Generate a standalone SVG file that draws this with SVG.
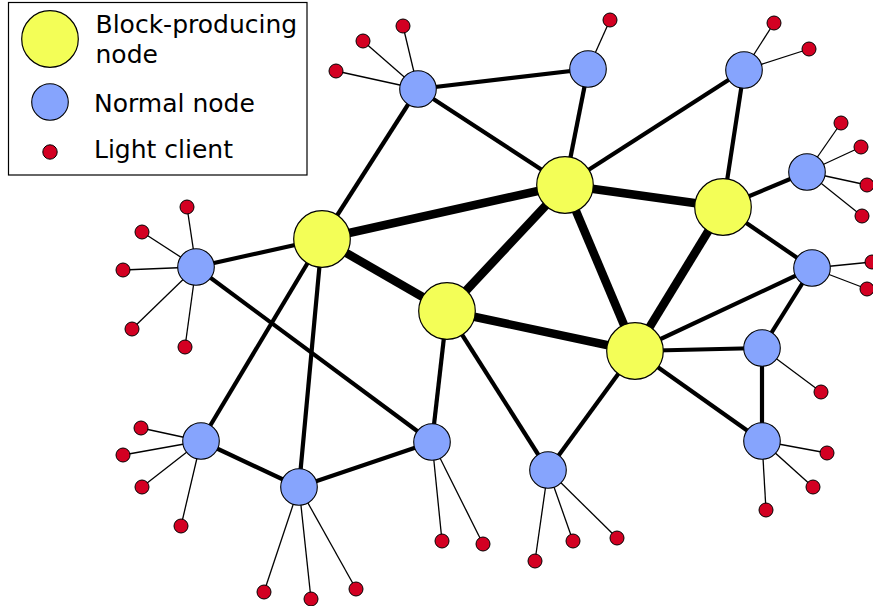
<svg xmlns="http://www.w3.org/2000/svg" width="873" height="606" viewBox="0 0 873 606">
<style>
.bg{fill:#ffffff}
.legend{fill:#ffffff;stroke:#000;stroke-width:1.2}
.lbl{font-family:"DejaVu Sans",sans-serif;font-size:25px;fill:#000}
.bp{fill:#f3fe57;stroke:#000;stroke-width:1.2}
.nn{fill:#86a4fd;stroke:#000;stroke-width:1.1}
.lc{fill:#d30022;stroke:#000;stroke-width:1}
.e{stroke:#000;stroke-width:4.2;stroke-linecap:butt}
.h{stroke:#000;stroke-width:8.5;stroke-linecap:butt}
.t{stroke:#000;stroke-width:1.3}
</style>
<rect class="bg" x="0" y="0" width="873" height="606"/>
<g id="connectors">
  <!-- light client links -->
  <line class="t" x1="418" y1="89" x2="403" y2="26"/>
  <line class="t" x1="418" y1="89" x2="363" y2="41"/>
  <line class="t" x1="418" y1="89" x2="336" y2="71"/>
  <line class="t" x1="588" y1="69" x2="610" y2="20"/>
  <line class="t" x1="744" y1="70" x2="774" y2="23"/>
  <line class="t" x1="744" y1="70" x2="809" y2="49"/>
  <line class="t" x1="807" y1="172" x2="841" y2="123"/>
  <line class="t" x1="807" y1="172" x2="861" y2="147"/>
  <line class="t" x1="807" y1="172" x2="867" y2="185"/>
  <line class="t" x1="807" y1="172" x2="862" y2="216"/>
  <line class="t" x1="196" y1="267" x2="187" y2="207"/>
  <line class="t" x1="196" y1="267" x2="142" y2="232"/>
  <line class="t" x1="196" y1="267" x2="123" y2="270"/>
  <line class="t" x1="196" y1="267" x2="132" y2="329"/>
  <line class="t" x1="196" y1="267" x2="185" y2="347"/>
  <line class="t" x1="812" y1="268" x2="872" y2="262"/>
  <line class="t" x1="812" y1="268" x2="867" y2="289"/>
  <line class="t" x1="762" y1="348" x2="821" y2="392"/>
  <line class="t" x1="762" y1="441" x2="827" y2="453"/>
  <line class="t" x1="762" y1="441" x2="813" y2="487"/>
  <line class="t" x1="762" y1="441" x2="766" y2="510"/>
  <line class="t" x1="548" y1="470" x2="535" y2="561"/>
  <line class="t" x1="548" y1="470" x2="573" y2="541"/>
  <line class="t" x1="548" y1="470" x2="617" y2="538"/>
  <line class="t" x1="432" y1="442" x2="442" y2="541"/>
  <line class="t" x1="432" y1="442" x2="483" y2="544"/>
  <line class="t" x1="299" y1="487" x2="264" y2="592"/>
  <line class="t" x1="299" y1="487" x2="311" y2="599"/>
  <line class="t" x1="299" y1="487" x2="356" y2="589"/>
  <line class="t" x1="201" y1="441" x2="141" y2="428"/>
  <line class="t" x1="201" y1="441" x2="123" y2="455"/>
  <line class="t" x1="201" y1="441" x2="142" y2="487"/>
  <line class="t" x1="201" y1="441" x2="181" y2="526"/>
  <!-- node links -->
  <line class="e" x1="418" y1="89" x2="588" y2="69"/>
  <line class="e" x1="418" y1="89" x2="565" y2="185"/>
  <line class="e" x1="418" y1="89" x2="322" y2="239"/>
  <line class="e" x1="588" y1="69" x2="565" y2="185"/>
  <line class="e" x1="744" y1="70" x2="565" y2="185"/>
  <line class="e" x1="744" y1="70" x2="723" y2="207"/>
  <line class="e" x1="723" y1="207" x2="807" y2="172"/>
  <line class="e" x1="723" y1="207" x2="812" y2="268"/>
  <line class="e" x1="635" y1="351" x2="812" y2="268"/>
  <line class="e" x1="635" y1="351" x2="762" y2="348"/>
  <line class="e" x1="635" y1="351" x2="762" y2="441"/>
  <line class="e" x1="635" y1="351" x2="548" y2="470"/>
  <line class="e" x1="812" y1="268" x2="762" y2="348"/>
  <line class="e" x1="762" y1="348" x2="762" y2="441"/>
  <line class="e" x1="447" y1="311" x2="548" y2="470"/>
  <line class="e" x1="447" y1="311" x2="432" y2="442"/>
  <line class="e" x1="322" y1="239" x2="196" y2="267"/>
  <line class="e" x1="196" y1="267" x2="432" y2="442"/>
  <line class="e" x1="322" y1="239" x2="201" y2="441"/>
  <line class="e" x1="322" y1="239" x2="299" y2="487"/>
  <line class="e" x1="201" y1="441" x2="299" y2="487"/>
  <line class="e" x1="299" y1="487" x2="432" y2="442"/>
  <!-- heavy links between block producers -->
  <line class="h" x1="565" y1="185" x2="322" y2="239"/>
  <line class="h" x1="565" y1="185" x2="723" y2="207"/>
  <line class="h" x1="565" y1="185" x2="447" y2="311"/>
  <line class="h" x1="565" y1="185" x2="635" y2="351"/>
  <line class="h" x1="723" y1="207" x2="635" y2="351"/>
  <line class="h" x1="322" y1="239" x2="447" y2="311"/>
  <line class="h" x1="447" y1="311" x2="635" y2="351"/>
</g>
<g id="light-clients">
  <circle class="lc" cx="403" cy="26" r="7"/>
  <circle class="lc" cx="363" cy="41" r="7"/>
  <circle class="lc" cx="336" cy="71" r="7"/>
  <circle class="lc" cx="610" cy="20" r="7"/>
  <circle class="lc" cx="774" cy="23" r="7"/>
  <circle class="lc" cx="809" cy="49" r="7"/>
  <circle class="lc" cx="841" cy="123" r="7"/>
  <circle class="lc" cx="861" cy="147" r="7"/>
  <circle class="lc" cx="867" cy="185" r="7"/>
  <circle class="lc" cx="862" cy="216" r="7"/>
  <circle class="lc" cx="187" cy="207" r="7"/>
  <circle class="lc" cx="142" cy="232" r="7"/>
  <circle class="lc" cx="123" cy="270" r="7"/>
  <circle class="lc" cx="132" cy="329" r="7"/>
  <circle class="lc" cx="185" cy="347" r="7"/>
  <circle class="lc" cx="872" cy="262" r="7"/>
  <circle class="lc" cx="867" cy="289" r="7"/>
  <circle class="lc" cx="821" cy="392" r="7"/>
  <circle class="lc" cx="827" cy="453" r="7"/>
  <circle class="lc" cx="813" cy="487" r="7"/>
  <circle class="lc" cx="766" cy="510" r="7"/>
  <circle class="lc" cx="535" cy="561" r="7"/>
  <circle class="lc" cx="573" cy="541" r="7"/>
  <circle class="lc" cx="617" cy="538" r="7"/>
  <circle class="lc" cx="442" cy="541" r="7"/>
  <circle class="lc" cx="483" cy="544" r="7"/>
  <circle class="lc" cx="264" cy="592" r="7"/>
  <circle class="lc" cx="311" cy="599" r="7"/>
  <circle class="lc" cx="356" cy="589" r="7"/>
  <circle class="lc" cx="141" cy="428" r="7"/>
  <circle class="lc" cx="123" cy="455" r="7"/>
  <circle class="lc" cx="142" cy="487" r="7"/>
  <circle class="lc" cx="181" cy="526" r="7"/>
</g>
<g id="normal-1"><circle class="nn" cx="418" cy="89" r="18.3"/></g>
<g id="normal-2"><circle class="nn" cx="588" cy="69" r="18.3"/></g>
<g id="normal-3"><circle class="nn" cx="744" cy="70" r="18.3"/></g>
<g id="normal-4"><circle class="nn" cx="807" cy="172" r="18.3"/></g>
<g id="normal-5"><circle class="nn" cx="196" cy="267" r="18.3"/></g>
<g id="normal-6"><circle class="nn" cx="812" cy="268" r="18.3"/></g>
<g id="normal-7"><circle class="nn" cx="762" cy="348" r="18.3"/></g>
<g id="normal-8"><circle class="nn" cx="762" cy="441" r="18.3"/></g>
<g id="normal-9"><circle class="nn" cx="548" cy="470" r="18.3"/></g>
<g id="normal-10"><circle class="nn" cx="432" cy="442" r="18.3"/></g>
<g id="normal-11"><circle class="nn" cx="299" cy="487" r="18.3"/></g>
<g id="normal-12"><circle class="nn" cx="201" cy="441" r="18.3"/></g>
<g id="producer-1"><circle class="bp" cx="322" cy="239" r="28.3"/></g>
<g id="producer-2"><circle class="bp" cx="565" cy="185" r="28.3"/></g>
<g id="producer-3"><circle class="bp" cx="723" cy="207" r="28.3"/></g>
<g id="producer-4"><circle class="bp" cx="447" cy="311" r="28.3"/></g>
<g id="producer-5"><circle class="bp" cx="635" cy="351" r="28.3"/></g>
<g id="legend">
  <rect class="legend" x="8.5" y="2.5" width="298.5" height="172.5"/>
  <circle class="bp" cx="50" cy="39" r="28.3"/>
  <circle class="nn" cx="50" cy="102" r="18.3"/>
  <circle class="lc" cx="50" cy="152" r="7.2"/>
  <text class="lbl" x="95.5" y="33">Block-producing</text>
  <text class="lbl" x="95.5" y="63">node</text>
  <text class="lbl" x="94" y="112">Normal node</text>
  <text class="lbl" x="94" y="158">Light client</text>
</g>
</svg>
